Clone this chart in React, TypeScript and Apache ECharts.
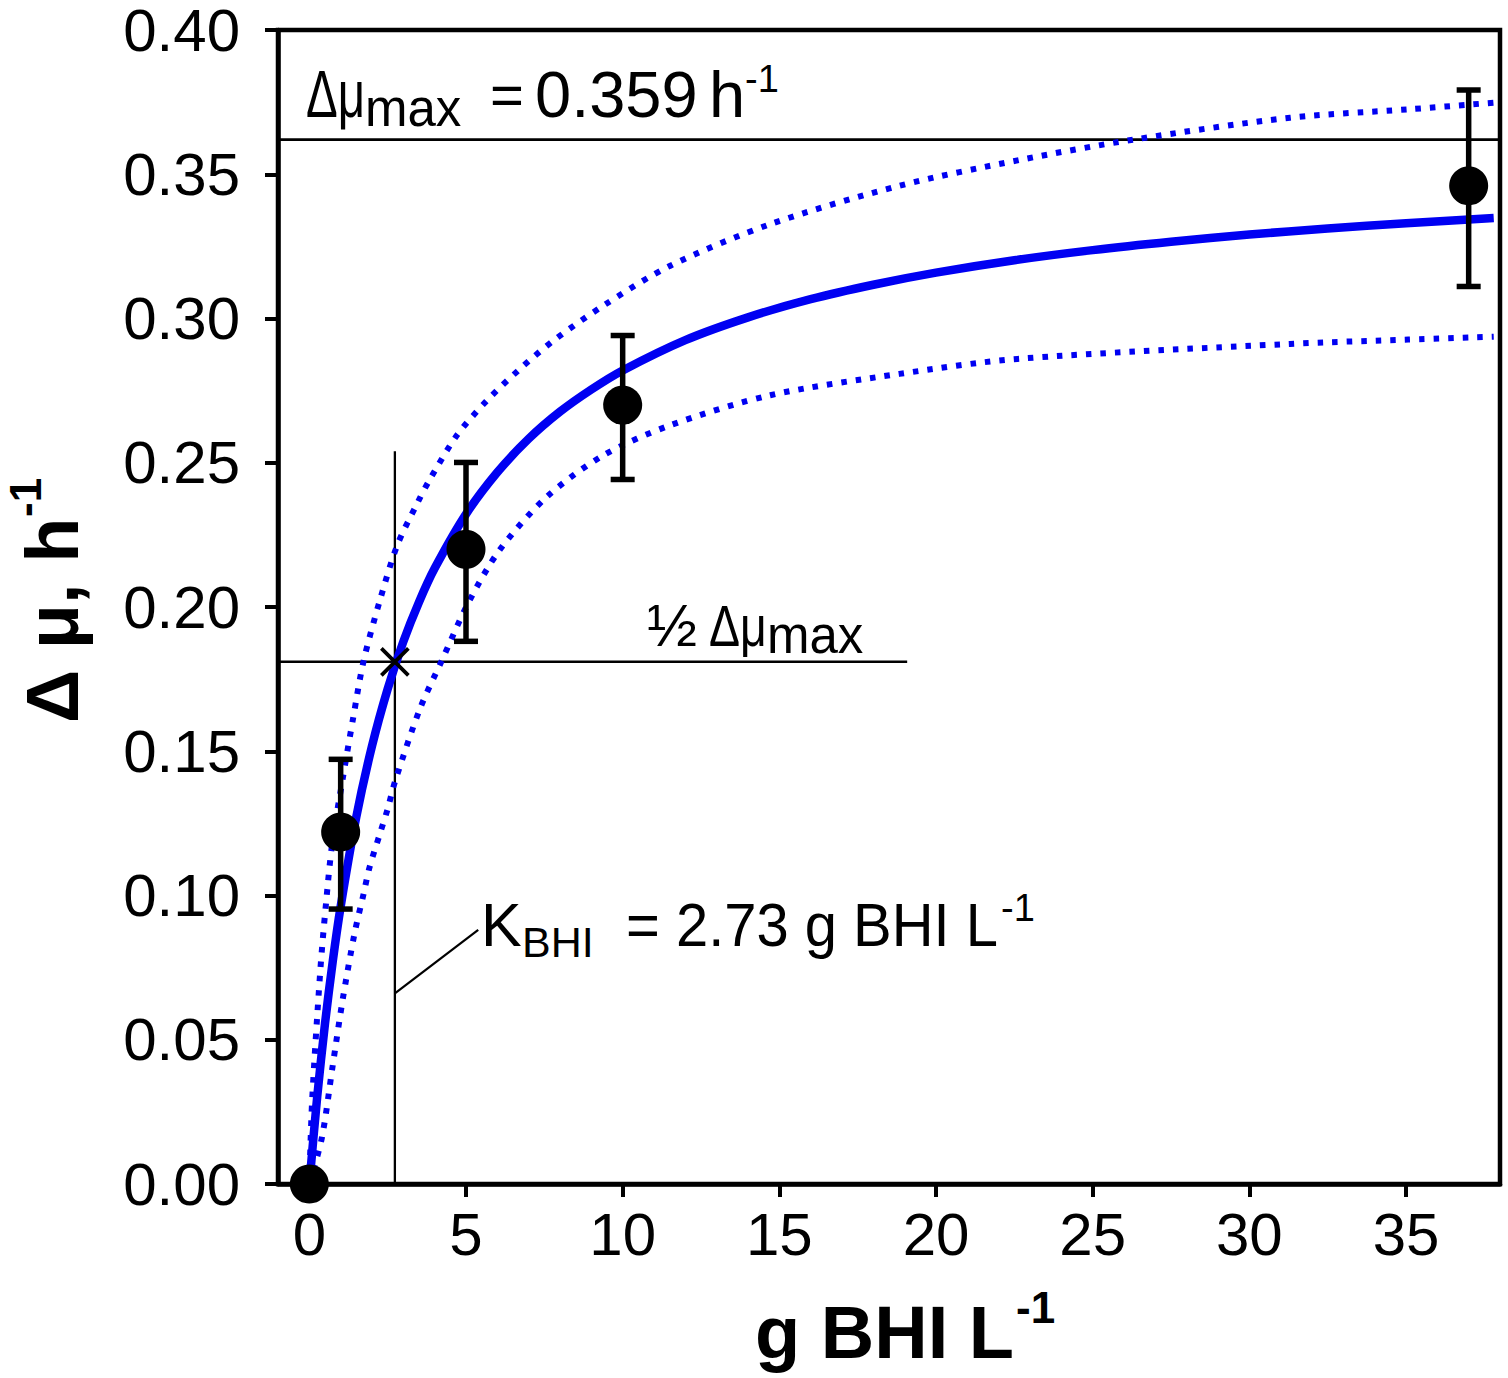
import React, { useEffect, useRef } from "react";
import * as echarts from "echarts";

const FONT = '"Liberation Sans", Arial, sans-serif';
const BLUE = "#0000f2";

// x tick labels
const xTicks = [0, 5, 10, 15, 20, 25, 30, 35];

// observed data (g BHI L-1 vs Δμ)
const obsX = [0, 1, 5, 10, 37];
const obsY = [0, 0.122, 0.22, 0.27, 0.346];
const errLow = [0, 0.0953, 0.1881, 0.2442, 0.3111];
const errHigh = [0, 0.1472, 0.2501, 0.2941, 0.3792];

// fitted curve
const fitX = [0, 0.25, 0.5, 0.75, 1, 1.5, 2, 2.5, 3, 3.5, 4, 5, 6, 7, 8, 9, 10, 12, 14, 16, 18, 20, 22.5, 25, 27.5, 30, 32.5, 35, 37.8];
const fitY = [0, 0.0301, 0.0556, 0.0774, 0.0962, 0.1273, 0.1518, 0.1716, 0.188, 0.2017, 0.2134, 0.2322, 0.2467, 0.2583, 0.2677, 0.2754, 0.282, 0.2925, 0.3004, 0.3067, 0.3117, 0.3159, 0.3202, 0.3237, 0.3266, 0.3291, 0.3312, 0.333, 0.3348];

// upper confidence band
const upperX = [0, 0.09, 0.35, 0.53, 0.73, 1.07, 1.4, 1.73, 2.27, 2.81, 3.47, 3.86, 4.71, 5.67, 6.73, 7.8, 9.39, 11.52, 14.71, 18.83, 22.6, 26.3, 31.3, 35.07, 37.8];
const upperY = [0, 0.029, 0.074, 0.097, 0.118, 0.1408, 0.1616, 0.1812, 0.203, 0.2215, 0.2365, 0.2445, 0.2595, 0.2716, 0.2826, 0.2924, 0.3045, 0.3183, 0.3327, 0.346, 0.3548, 0.362, 0.3696, 0.3725, 0.3748];

// lower confidence band
const lowerX = [0, 0.4, 0.74, 1.06, 1.44, 1.73, 1.92, 2.27, 2.5, 2.74, 3.54, 4.21, 5.1, 6.09, 7.58, 9.39, 11.52, 14.71, 18.83, 22.6, 31.3, 35.07, 37.8];
const lowerY = [0, 0.016, 0.0406, 0.0636, 0.0867, 0.1005, 0.1097, 0.122, 0.13, 0.1397, 0.165, 0.181, 0.202, 0.22, 0.2382, 0.2526, 0.263, 0.2734, 0.2808, 0.286, 0.2912, 0.2927, 0.2937];

// annotation lines (data coordinates)
const kBHI = 2.73;
const muMaxLine = 0.362;
const halfMuLine = 0.181;
const kLineTop = 0.254;
const halfLineEndX = 19.08;
const leaderX = [2.73, 5.39];
const leaderY = [0.0661, 0.0881];

const zip = (xs: number[], ys: number[]) => xs.map((x, i) => [x, ys[i]]);

function txt(t: string, x: number, base: number, size: number, opts: { sx?: number; bold?: boolean } = {}) {
  return {
    type: "text",
    x,
    y: base - 0.3465 * size,
    scaleX: opts.sx ?? 1,
    z: 100,
    style: {
      text: t,
      x: 0,
      y: 0,
      fontSize: size,
      fontFamily: FONT,
      fontWeight: opts.bold ? "bold" : "normal",
      fill: "#000",
      align: "left",
      verticalAlign: "middle",
      textAlign: "left",
      textVerticalAlign: "middle",
    },
  };
}

export default function App() {
  const ref = useRef<HTMLDivElement>(null);
  useEffect(() => {
    if (!ref.current) return;
    const chart = echarts.init(ref.current, null, { renderer: "svg" });
    const thinLine = (data: number[][], w = 2.6) => ({
      type: "line",
      data,
      showSymbol: false,
      symbol: "none",
      lineStyle: { color: "#000", width: w },
      z: 3,
      silent: true,
    });
    const dotted = { color: BLUE, width: 6, type: [5.5, 9], cap: "butt" };
    const option: any = {
      animation: false,
      backgroundColor: "#fff",
      grid: {
        left: 278,
        right: 8,
        top: 27,
        bottom: 194,
        show: true,
        borderColor: "#000",
        borderWidth: 4.5,
        containLabel: false,
      },
      xAxis: {
        type: "value",
        min: -1,
        max: 38,
        axisLine: { show: true, lineStyle: { color: "#000", width: 4.5 } },
        axisTick: { show: true, customValues: xTicks, length: 13, lineStyle: { color: "#000", width: 4 } },
        axisLabel: { customValues: xTicks, fontSize: 60, color: "#000", fontFamily: FONT, margin: 20 },
        splitLine: { show: false },
      },
      yAxis: {
        type: "value",
        min: 0,
        max: 0.4,
        interval: 0.05,
        axisLine: { show: true, onZero: false, lineStyle: { color: "#000", width: 4.5 } },
        axisTick: { show: true, length: 13, lineStyle: { color: "#000", width: 4 } },
        axisLabel: {
          fontSize: 60,
          lineHeight: 46,
          color: "#000",
          fontFamily: FONT,
          margin: 38,
          formatter: (v: number) => v.toFixed(2),
        },
        splitLine: { show: false },
      },
      series: [
        thinLine([[-1, muMaxLine], [38, muMaxLine]]),
        thinLine([[-1, halfMuLine], [halfLineEndX, halfMuLine]]),
        thinLine([[kBHI, 0], [kBHI, kLineTop]], 2.3),
        thinLine(zip(leaderX, leaderY), 2.2),
        {
          type: "line",
          data: zip(upperX, upperY),
          showSymbol: false,
          symbol: "none",
          smooth: 0.3,
          lineStyle: dotted,
          z: 4,
        },
        {
          type: "line",
          data: zip(lowerX, lowerY),
          showSymbol: false,
          symbol: "none",
          smooth: 0.3,
          lineStyle: dotted,
          z: 4,
        },
        {
          type: "line",
          data: zip(fitX, fitY),
          showSymbol: false,
          symbol: "none",
          smooth: 0.3,
          lineStyle: { color: BLUE, width: 8.5 },
          z: 5,
        },
        {
          type: "custom",
          data: obsX.map((x, i) => [x, errLow[i], errHigh[i]]).filter((d) => d[2] > d[1]),
          renderItem: (params: any, api: any) => {
            const x = api.value(0);
            const p1 = api.coord([x, api.value(2)]);
            const p2 = api.coord([x, api.value(1)]);
            const hw = 12;
            const st = { stroke: "#000", lineWidth: 5.5 };
            return {
              type: "group",
              children: [
                { type: "line", shape: { x1: p1[0], y1: p1[1], x2: p2[0], y2: p2[1] }, style: st },
                { type: "line", shape: { x1: p1[0] - hw, y1: p1[1], x2: p1[0] + hw, y2: p1[1] }, style: st },
                { type: "line", shape: { x1: p2[0] - hw, y1: p2[1], x2: p2[0] + hw, y2: p2[1] }, style: st },
              ],
            };
          },
          z: 6,
        },
        {
          type: "scatter",
          data: zip(obsX, obsY),
          symbol: "circle",
          symbolSize: 39,
          itemStyle: { color: "#000", opacity: 1 },
          z: 7,
        },
        {
          type: "scatter",
          data: [[kBHI, halfMuLine]],
          symbol: "path://M0,0L10,10M10,0L0,10",
          symbolSize: 27,
          itemStyle: { color: "transparent", borderColor: "#000", borderWidth: 3.8, opacity: 1 },
          z: 8,
        },
      ],
      graphic: [
        // Δμmax = 0.359 h-1
        txt("Δμ", 306, 117, 66, { sx: 0.72 }),
        txt("max", 365, 126, 51),
        txt("=", 490, 115, 58),
        txt("0.359", 535, 117, 65),
        txt("h", 709, 117, 65),
        txt("-1", 745, 92, 38),
        // ½ Δμmax
        txt("½", 647, 646, 60),
        txt("Δμ", 709, 646, 58, { sx: 0.8 }),
        txt("max", 767, 653, 51),
        // KBHI = 2.73 g BHI L-1
        txt("K", 481, 946, 61),
        txt("BHI", 522, 957, 43),
        txt("= 2.73 g BHI L", 626, 946, 61, { sx: 0.95 }),
        txt("-1", 1001, 921, 38),
        // x axis name
        txt("g BHI L", 755, 1358, 74, { bold: true }),
        txt("-1", 1016, 1323, 44, { bold: true }),
        // y axis name (rotated)
        {
          type: "group",
          x: 78,
          y: 723,
          rotation: Math.PI / 2,
          children: [txt("Δ μ, h", 0, 0, 74, { bold: true }), txt("-1", 206, -37, 44, { bold: true })],
        },
      ],
    };
    chart.setOption(option);
    return () => chart.dispose();
  }, []);
  return (
    <div
      ref={ref}
      style={{ position: "fixed", left: 0, top: 0, width: 1508, height: 1378, background: "#fff" }}
    />
  );
}
